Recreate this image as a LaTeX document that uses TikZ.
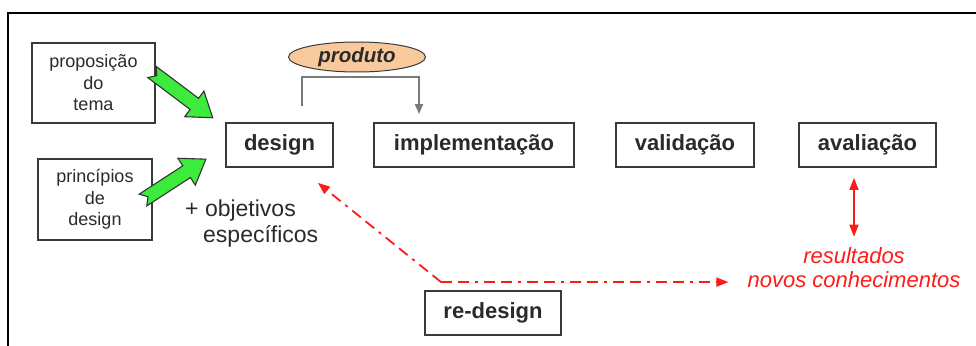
\documentclass[tikz,border=0pt]{standalone}
\usepackage{fontspec}
\setmainfont{Liberation Sans}
\usetikzlibrary{arrows.meta,calc,shapes.geometric}
\definecolor{boxline}{HTML}{3A3A3A}
\definecolor{txt}{HTML}{2A2A2A}
\definecolor{peach}{HTML}{F8C99C}
\definecolor{arrgreen}{HTML}{3CEB3C}
\definecolor{redc}{HTML}{FF1A1A}
\definecolor{grayc}{HTML}{7A7A7A}
\tikzset{
  stagebox/.style={draw=boxline, line width=1.8pt, minimum height=44pt, inner sep=0pt,
    text=txt, font=\fontsize{22}{26}\selectfont\bfseries},
  inbox/.style={draw=boxline, line width=1.8pt, inner sep=0pt, text=txt, align=center,
    font=\fontsize{18}{21.5}\selectfont},
  greenarr/.style={fill=arrgreen, draw=black!80, line width=1.1pt, line join=miter},
  grayline/.style={draw=grayc, line width=1.8pt, -{Triangle[length=10pt,width=8pt]}},
  reddash/.style={draw=redc, line width=1.8pt,
    dash pattern=on 11pt off 6pt on 11pt off 6pt on 3pt off 6pt,
    -{Triangle[length=12pt,width=9pt]}},
  redarr/.style={draw=redc, line width=1.6pt, {Triangle[length=12pt,width=9pt]}-{Triangle[length=12pt,width=9pt]}}
}
\begin{document}
\begin{tikzpicture}[x=1pt,y=-1pt]
\useasboundingbox (0,0) rectangle (976,345);
% frame
\draw[line width=2.5pt, line cap=rect] (8,346) -- (8,13) -- (977,13);

% stage boxes
\node[stagebox, minimum width=107pt] (design) at (279.5,145) {design};
\node[stagebox, minimum width=200pt] (impl) at (474,145) {implementação};
\node[stagebox, minimum width=138pt] (valid) at (685,145) {validação};
\node[stagebox, minimum width=137pt] (aval) at (867.5,145) {avaliação};
\node[stagebox, minimum width=136pt] (redes) at (493,313) {re-design};

% input boxes
\node[inbox, minimum width=123pt, minimum height=80pt] (prop) at (93.5,83) {proposição\\do\\tema};
\node[inbox, minimum width=114pt, minimum height=81pt] (princ) at (95,199.5) {princípios\\de\\design};

% produto
\node[ellipse, draw=boxline, line width=1pt, fill=peach, minimum width=137pt, minimum height=30pt,
  inner sep=0pt, text=txt, font=\fontsize{20.5}{24}\selectfont\bfseries\itshape] (prod) at (357,57) {produto};

% texts
\node[anchor=west, align=left, inner sep=0pt, text=txt, font=\fontsize{23}{26}\selectfont]
  (obj) at (185,224) {+ objetivos\\\hspace*{18pt}específicos};
\node[align=center, inner sep=0pt, text=redc, font=\fontsize{22}{24}\selectfont\itshape]
  (res) at (854,268) {resultados\\novos conhecimentos};

% green arrows
\begin{scope}[shift={(152,72)}, rotate=-37]
  \draw[greenarr] (0,-7) -- (53,-7) -- (53,-16) -- (76,0) -- (53,16) -- (53,7) -- (0,7) -- (6,0) -- cycle;
\end{scope}
\begin{scope}[shift={(143,200)}, rotate=33]
  \draw[greenarr] (0,-7) -- (52,-7) -- (52,-16) -- (75,0) -- (52,16) -- (52,7) -- (0,7) -- (6,0) -- cycle;
\end{scope}

% gray connector design -> implementacao
\draw[grayline] ($(design.north)+(22.5,-16)$) |- ($(impl.north)+(-55,-45)$) -- ($(impl.north)+(-55,-8)$);

% red re-design connectors
\coordinate (rc) at ($(redes.north west)+(17,-8)$);
\draw[reddash] (rc) -- ($(design.south east)+(-16,15)$);
\draw[reddash, shorten >=19pt] (rc) -- (rc -| res.west);

% red double arrow
\draw[redarr, shorten <=10pt, shorten >=11pt] (aval.south -| res.north) -- (res.north);
\end{tikzpicture}
\end{document}
